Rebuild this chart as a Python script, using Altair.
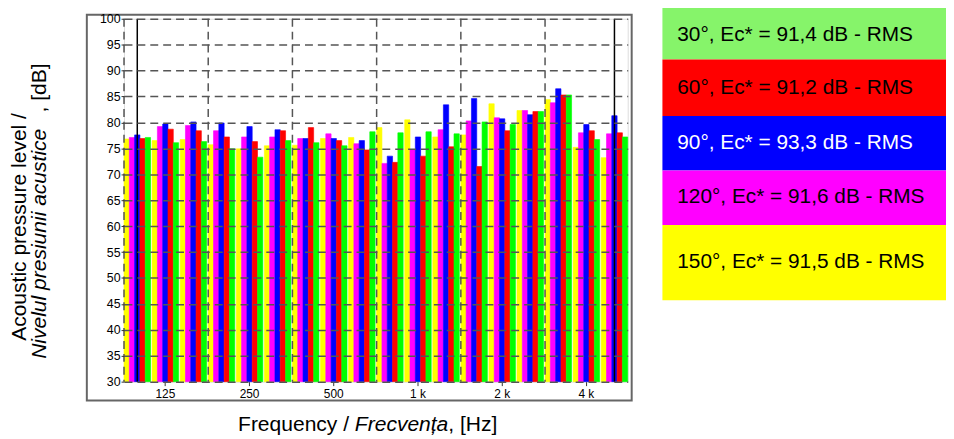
import altair as alt
import pandas as pd

# ---------------- data ----------------
freqs = ['100', '125', '160', '200', '250', '315', '400', '500', '630', '800',
         '1 k', '1.25 k', '1.6 k', '2 k', '2.5 k', '3.15 k', '4 k', '5 k']
label_freqs = ['125', '250', '500', '1 k', '2 k', '4 k']
octave_edges = ['100', '200', '400', '800', '1.6 k', '3.15 k']
marker_freqs = ['100', '5 k']

series = ['150°', '120°', '90°', '60°', '30°']
v150 = [76.8, 76.5, 76.7, 75.7, 74.9, 75.5, 75.6, 76.9, 77.1, 79.0, 80.5, 77.2, 77.6, 83.6, 82.3, 84.4, 75.2, 73.2]
v120 = [77.1, 79.2, 79.4, 78.4, 77.2, 77.2, 76.9, 77.8, 75.9, 72.1, 74.7, 78.6, 80.3, 80.9, 82.3, 83.8, 78.0, 77.8]
v90 = [77.6, 79.7, 80.1, 79.9, 79.2, 78.6, 76.9, 76.9, 76.5, 73.5, 77.2, 83.4, 84.6, 80.7, 81.5, 86.5, 79.6, 81.3]
v60 = [76.9, 78.7, 78.4, 77.2, 76.3, 78.4, 79.0, 76.5, 74.7, 72.3, 73.5, 75.3, 71.5, 78.4, 82.1, 85.3, 78.4, 78.0]
v30 = [77.1, 76.1, 76.3, 74.9, 73.3, 76.5, 76.1, 75.5, 78.2, 78.0, 78.2, 77.8, 80.1, 79.6, 82.1, 85.3, 76.7, 77.2]

legend_labels = ['30°, Ec* = 91,4 dB - RMS', '60°, Ec* = 91,2 dB - RMS', '90°, Ec* = 93,3 dB - RMS',
                 '120°, Ec* = 91,6 dB - RMS', '150°, Ec* = 91,5 dB - RMS']

# ---------------- styles ----------------
bar_colors = ['#FFFF00', '#FF00FF', '#0000FF', '#FF0000', '#00FF00']
legend_fill = ['#86F46A', '#FF0000', '#0000FF', '#FF00FF', '#FFFF00']
legend_text_color = ['black', 'black', 'white', 'black', 'black']
# (top, bottom, text-middle) in plot coordinates
legend_geom = [(-13, 41, 16), (41, 98, 70), (98, 153, 125), (153, 208, 180), (208, 284, 245)]
FONT = 'Liberation Sans'
TFS = 21.2
W, H = 508, 366

rows = []
for s, vals in zip(series, [v150, v120, v90, v60, v30]):
    for f, v in zip(freqs, vals):
        rows.append({'freq': f, 'series': s, 'value': v})
df = pd.DataFrame(rows)

xscale = alt.Scale(domain=freqs, paddingInner=0.055, paddingOuter=0)
cscale = alt.Scale(domain=series, range=bar_colors)

bars = alt.Chart(df).mark_bar(strokeWidth=0.6).encode(
    x=alt.X('freq:N', scale=xscale, sort=freqs,
            axis=alt.Axis(values=label_freqs, title=None, labelAngle=0, grid=False,
                          domain=False, tickSize=4, tickColor='#333', labelFontSize=12,
                          labelColor='black', labelPadding=3, labelFont=FONT)),
    xOffset=alt.XOffset('series:N', sort=series, scale=alt.Scale(paddingInner=0, paddingOuter=0)),
    y=alt.Y('value:Q', scale=alt.Scale(domain=[30, 100], zero=False, nice=False),
            axis=alt.Axis(values=list(range(30, 101, 5)), title=None, grid=True,
                          gridDash=[8, 5], gridColor='#555', gridWidth=1.5, domain=False,
                          tickSize=3, tickColor='#333', labelFontSize=12.5, labelColor='black',
                          labelPadding=1, labelFont=FONT, zindex=1)),
    y2=alt.datum(30),
    color=alt.Color('series:N', scale=cscale, legend=None),
    stroke=alt.Stroke('series:N', scale=cscale, legend=None),
)

vgrid = alt.Chart(pd.DataFrame({'freq': octave_edges})).mark_rule(
    color='#555', strokeWidth=1.5, strokeDash=[8, 5]
).encode(x=alt.X('freq:N', bandPosition=0))

markers = alt.Chart(pd.DataFrame({'freq': marker_freqs})).mark_rule(
    color='black', strokeWidth=1.5
).encode(x=alt.X('freq:N', bandPosition=0.5))

one = pd.DataFrame({'a': [0]})
frame = alt.Chart(one).mark_rect(filled=False, stroke='#666', strokeWidth=2).encode(
    x=alt.value(-37.5), x2=alt.value(512), y=alt.value(-4), y2=alt.value(385))

# axis titles (piece widths from Arial-compatible metrics)
xl = 115
w1 = 5.558 * TFS
w2 = 4.446 * TFS
t_y1 = alt.Chart(one).mark_text(angle=270, align='center', baseline='middle', fontSize=TFS,
                               font=FONT, color='black', text='Acoustic pressure level /').encode(
    x=alt.value(-105), y=alt.value(210))
t_y2a = alt.Chart(one).mark_text(angle=270, align='left', baseline='middle', fontSize=TFS,
                                font=FONT, fontStyle='italic', color='black',
                                text='Nivelul presiunii acustice').encode(
    x=alt.value(-85), y=alt.value(343))
t_y2b = alt.Chart(one).mark_text(angle=270, align='right', baseline='middle', fontSize=TFS,
                                font=FONT, color='black', text=' , [dB]').encode(
    x=alt.value(-85), y=alt.value(45))
t_x1 = alt.Chart(one).mark_text(align='left', baseline='alphabetic', fontSize=TFS, font=FONT,
                               color='black', text='Frequency / ').encode(
    x=alt.value(xl), y=alt.value(416))
t_x2 = alt.Chart(one).mark_text(align='left', baseline='alphabetic', fontSize=TFS, font=FONT,
                               fontStyle='italic', color='black', text='Frecvența').encode(
    x=alt.value(xl + w1), y=alt.value(416))
t_x3 = alt.Chart(one).mark_text(align='left', baseline='alphabetic', fontSize=TFS, font=FONT,
                               color='black', text=', [Hz]').encode(
    x=alt.value(xl + w1 + w2), y=alt.value(416))

layers = [bars, vgrid, markers, frame, t_y1, t_y2a, t_y2b, t_x1, t_x2, t_x3]

for lab, fill, tc, (top, bot, mid) in zip(legend_labels, legend_fill, legend_text_color, legend_geom):
    ld = pd.DataFrame({'label': [lab]})
    layers.append(alt.Chart(ld).mark_rect(fill=fill).encode(
        x=alt.value(543), x2=alt.value(829), y=alt.value(top), y2=alt.value(bot)))
    layers.append(alt.Chart(ld).mark_text(align='left', baseline='middle', fontSize=21,
                                          font=FONT, color=tc).encode(
        text='label:N', x=alt.value(558), y=alt.value(mid)))

chart = alt.layer(*layers).properties(
    width=W, height=H,
    autosize=alt.AutoSizeParams(type='none'),
    padding={'left': 117, 'top': 9, 'right': 321, 'bottom': 56},
).configure_view(stroke='#444', strokeWidth=1).configure(font=FONT)

chart.save('out.html', embed_options={'renderer': 'svg', 'actions': False})
